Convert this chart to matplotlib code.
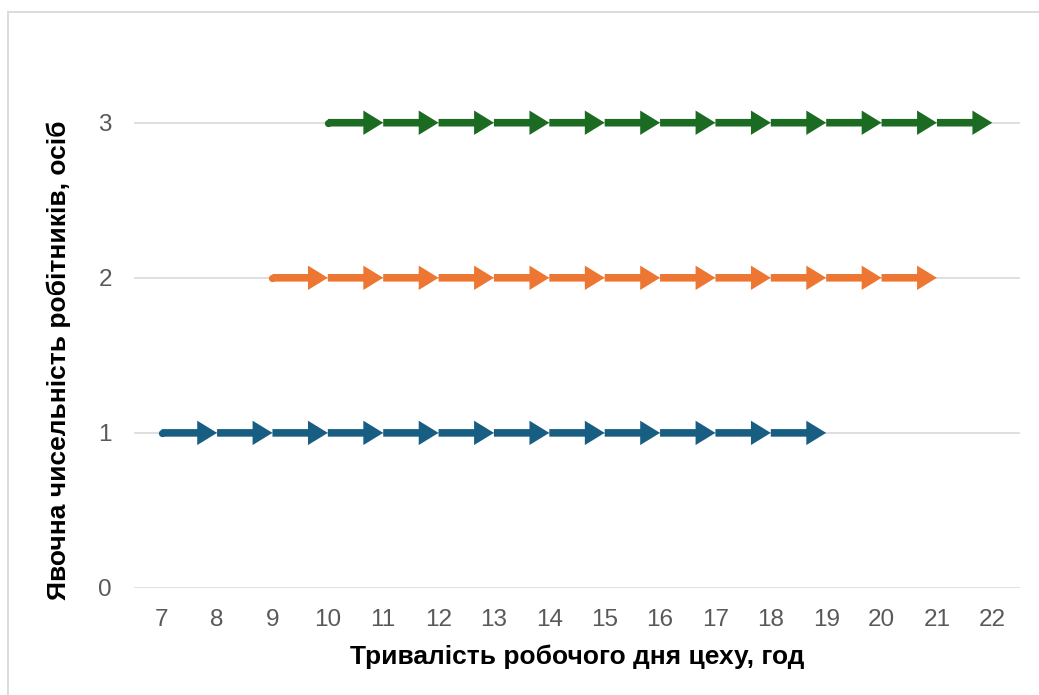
import matplotlib.pyplot as plt
from matplotlib.patches import Rectangle

# hours of the working day (category axis) and the three workers' shifts
hours = list(range(7, 23))
shift1 = list(range(7, 20))   # worker 1: 7 -> 19
shift2 = list(range(9, 22))   # worker 2: 9 -> 21
shift3 = list(range(10, 23))  # worker 3: 10 -> 22
levels = [1, 2, 3]
colors = ['#175e82', '#ed7632', '#1b6b23']
y_ticks = [0, 1, 2, 3]

plt.rcParams['font.family'] = ['Liberation Sans', 'DejaVu Sans']

fig = plt.figure(figsize=(10.39, 6.95), dpi=100)
ax = fig.add_axes([0.129, 0.154, 0.8527, 0.781])

# outer chart border (runs off the right/bottom edge in the original)
fig.patches.append(Rectangle((8 / 1039, -0.1), 1.2, 1.0827, transform=fig.transFigure,
                             fill=False, edgecolor='#d9d9d9', lw=1.3, zorder=0))

arrow = 'simple,head_length=11,head_width=13.5,tail_width=4.2'
for xs, lvl, c in zip([shift1, shift2, shift3], levels, colors):
    ax.plot(xs[0], lvl, 'o', ms=5.2, color=c, mew=0, zorder=3)
    for x0, x1 in zip(xs[:-1], xs[1:]):
        ax.annotate('', xy=(x1, lvl), xytext=(x0, lvl),
                    arrowprops=dict(arrowstyle=arrow, mutation_scale=1.3, color=c,
                                    lw=0, shrinkA=0, shrinkB=0), zorder=3)

ax.set_xlim(6.5, 22.5)
ax.set_ylim(0, 3.5)
ax.set_xticks(hours)
ax.set_xticklabels([str(h) for h in hours])
ax.set_yticks(y_ticks)
ax.grid(axis='y', color='#d9d9d9', lw=1.2)
ax.set_axisbelow(True)
for s in ax.spines.values():
    s.set_visible(False)
ax.tick_params(length=0, labelsize=17.5, colors='#595959')
ax.tick_params(axis='x', pad=15)
ax.tick_params(axis='y', pad=16)

ax.set_xlabel('Тривалість робочого дня цеху, год', fontsize=19, fontweight='bold', labelpad=10)
ax.set_ylabel('Явочна чисельність робітників, осіб', fontsize=19, fontweight='bold')
ax.yaxis.set_label_coords(-0.071, 0.42)

fig.savefig('out.png', dpi=100)
